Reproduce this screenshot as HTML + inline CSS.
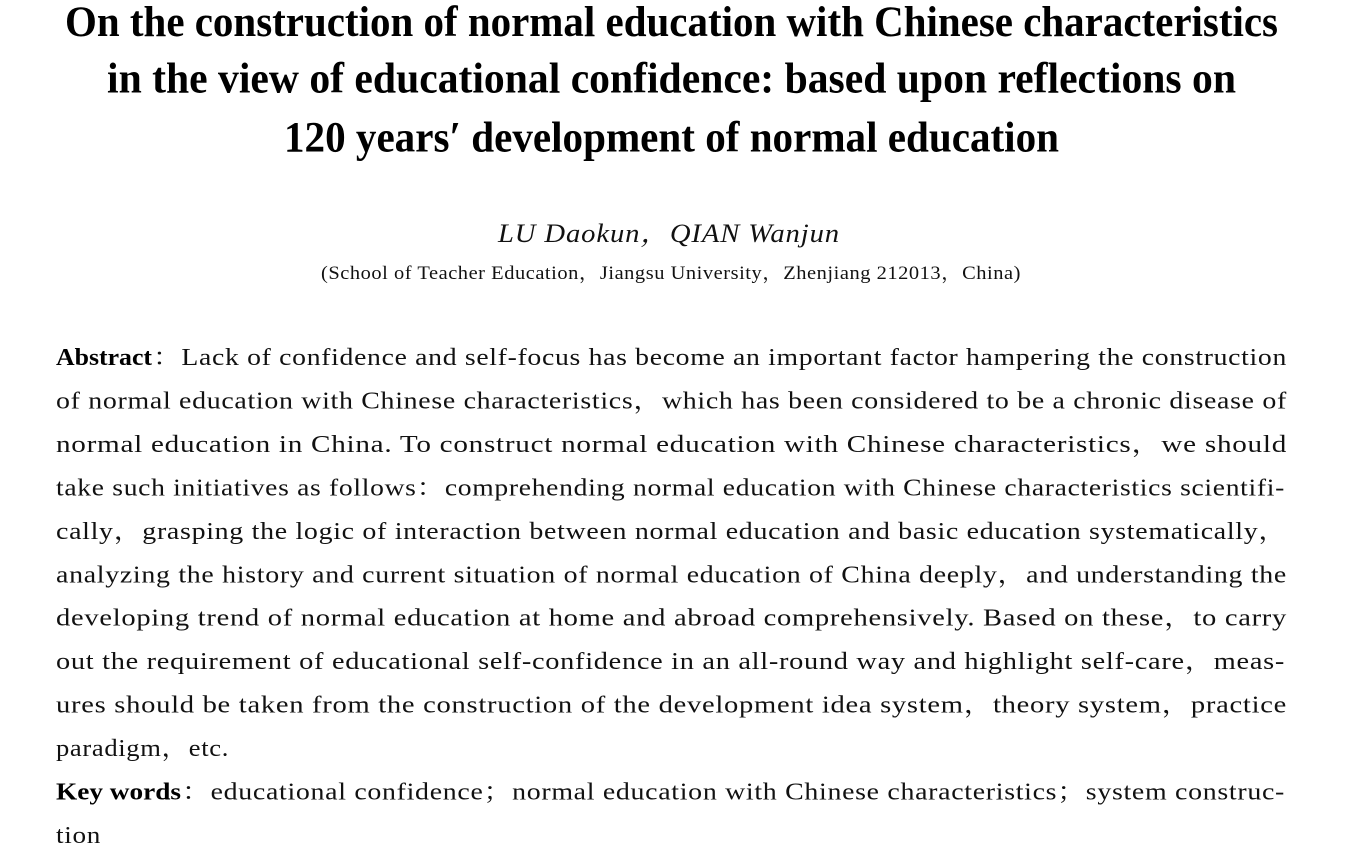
<!DOCTYPE html>
<html>
<head>
<meta charset="utf-8">
<style>
  html, body { margin:0; padding:0; background:#fff; }
  body { width:1348px; height:860px; overflow:hidden; }
  svg { display:block; }
  .t { font-family:"Liberation Serif","Noto Serif CJK SC",serif; font-weight:bold; font-size:43px; fill:#000; }
  .a { font-family:"Liberation Serif","Noto Serif CJK SC",serif; font-style:italic; font-size:26px; letter-spacing:0.8px; fill:#111; }
  .f { font-family:"Liberation Serif","Noto Serif CJK SC",serif; font-size:19px; letter-spacing:0.5px; fill:#111; }
  .b { font-family:"Liberation Serif","Noto Serif CJK SC",serif; font-size:24px; letter-spacing:0.6px; fill:#111; }
  .bb { font-family:"Liberation Serif","Noto Serif CJK SC",serif; font-size:24px; font-weight:bold; fill:#000; }
</style>
</head>
<body>
<svg width="1348" height="860" viewBox="0 0 1348 860" xmlns="http://www.w3.org/2000/svg">
  <rect width="1348" height="860" fill="#fff"/>
  <!-- Title -->
  <text class="t" x="65" y="36" textLength="1213" lengthAdjust="spacingAndGlyphs">On the construction of normal education with Chinese characteristics</text>
  <text class="t" x="107" y="92.5" textLength="1129" lengthAdjust="spacingAndGlyphs">in the view of educational confidence:  based upon reflections on</text>
  <text class="t" x="284" y="151.5" textLength="775" lengthAdjust="spacingAndGlyphs">120 years′ development of normal education</text>

  <!-- Authors -->
  <text class="a" x="498" y="242" textLength="342" lengthAdjust="spacingAndGlyphs">LU Daokun，QIAN Wanjun</text>
  <text class="f" x="321" y="279" textLength="700" lengthAdjust="spacingAndGlyphs">(School of Teacher Education，Jiangsu University，Zhenjiang 212013，China)</text>

  <!-- Abstract -->
  <text class="bb" x="56" y="365" textLength="96" lengthAdjust="spacingAndGlyphs">Abstract</text>
  <text class="b" x="153" y="365" textLength="1134" lengthAdjust="spacingAndGlyphs">：Lack of confidence and self-focus has become an important factor hampering the construction</text>
  <text class="b" x="56" y="408.5" textLength="1231" lengthAdjust="spacingAndGlyphs">of normal education with Chinese characteristics，which has been considered to be a chronic disease of</text>
  <text class="b" x="56" y="452" textLength="1231" lengthAdjust="spacingAndGlyphs">normal education in China.  To construct normal education with Chinese characteristics，we should</text>
  <text class="b" x="56" y="495.4" textLength="1229" lengthAdjust="spacingAndGlyphs">take such initiatives as follows：comprehending normal education with Chinese characteristics scientifi-</text>
  <text class="b" x="56" y="538.8" textLength="1231" lengthAdjust="spacingAndGlyphs">cally，grasping the logic of interaction between normal education and basic education systematically，</text>
  <text class="b" x="56" y="582.3" textLength="1231" lengthAdjust="spacingAndGlyphs">analyzing the history and current situation of normal education of China deeply，and understanding the</text>
  <text class="b" x="56" y="625.7" textLength="1231" lengthAdjust="spacingAndGlyphs">developing trend of normal education at home and abroad comprehensively.  Based on these，to carry</text>
  <text class="b" x="56" y="669.2" textLength="1229" lengthAdjust="spacingAndGlyphs">out the requirement of educational self-confidence in an all-round way and highlight self-care，meas-</text>
  <text class="b" x="56" y="712.6" textLength="1231" lengthAdjust="spacingAndGlyphs">ures should be taken from the construction of the development idea system，theory system，practice</text>
  <text class="b" x="56" y="756" textLength="173" lengthAdjust="spacingAndGlyphs">paradigm，etc.</text>

  <!-- Key words -->
  <text class="bb" x="56" y="799.5" textLength="125" lengthAdjust="spacingAndGlyphs">Key words</text>
  <text class="b" x="182" y="799.5" textLength="1103" lengthAdjust="spacingAndGlyphs">：educational confidence；normal education with Chinese characteristics；system construc-</text>
  <text class="b" x="56" y="843" textLength="45" lengthAdjust="spacingAndGlyphs">tion</text>
</svg>
</body>
</html>
